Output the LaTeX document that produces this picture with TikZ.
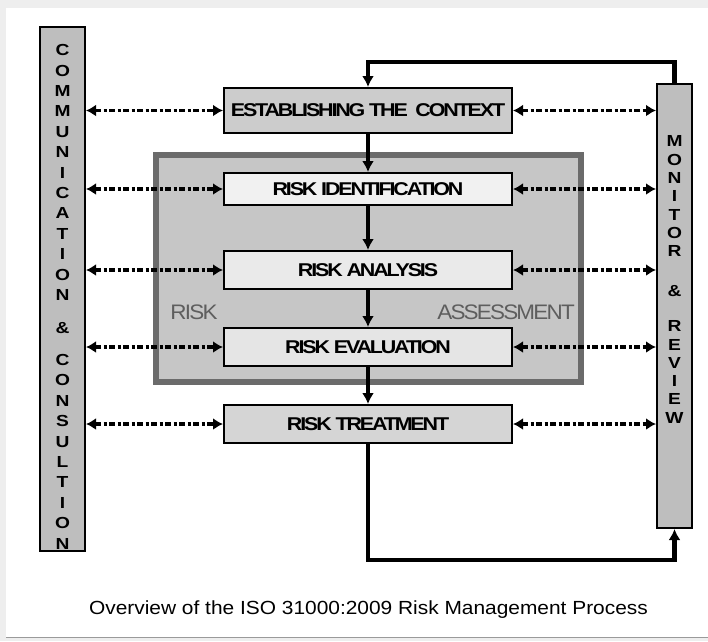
\documentclass[tikz,border=0pt]{standalone}
\usepackage{fontspec}
\usepackage{graphicx}
\setmainfont{Liberation Sans}
\newfontfamily\boxfont[LetterSpace=-10]{Liberation Sans}
\newfontfamily\areafont[LetterSpace=-8]{Liberation Sans}
\usetikzlibrary{arrows.meta}
\definecolor{pagebg}{HTML}{EEEEEE}
\definecolor{framegray}{HTML}{9A9A9A}
\definecolor{ctxfill}{HTML}{CCCCCC}
\definecolor{identfill}{HTML}{F1F1F1}
\definecolor{analfill}{HTML}{EAEAEA}
\definecolor{evalfill}{HTML}{E5E5E5}
\definecolor{treatfill}{HTML}{D5D5D5}
\definecolor{colfill}{HTML}{BEBEBE}
\definecolor{assessfill}{HTML}{C6C6C6}
\definecolor{assessborder}{HTML}{6B6B6B}
\definecolor{assesstext}{HTML}{5E5E5E}
\begin{document}
\begin{tikzpicture}[x=1pt,y=-1pt,
  procbox/.style={draw=black, line width=2pt, minimum width=288pt, inner sep=0pt,
    font=\boxfont\bfseries\fontsize{18.5}{20}\selectfont},
  colbox/.style={draw=black, line width=2pt, fill=colfill, inner sep=0pt},
  collabel/.style={inner sep=0pt, font=\bfseries\fontsize{16}{20.4}\selectfont},
  assessbox/.style={draw=assessborder, line width=6pt, fill=assessfill, inner sep=0pt},
  assesslabel/.style={inner sep=0pt, text=assesstext, font=\areafont\fontsize{21}{23}\selectfont},
  captionstyle/.style={inner sep=0pt, font=\fontsize{19}{21}\selectfont},
  dasharrow/.style={line width=3.2pt, dash pattern=on 6pt off 2.5pt on 3pt off 2.5pt,
    {Latex[length=10pt,width=12pt]}-{Latex[length=10pt,width=12pt]}},
  flowarrow/.style={line width=3.8pt, -{Latex[length=11pt,width=12pt]}},
  loopline/.style={line width=4.2pt, -{Latex[length=11pt,width=12pt]}}
]
\useasboundingbox (0,0) rectangle (708,641);
% page frame
\fill[pagebg] (0,0) rectangle (708,641);
\fill[white] (6,8) rectangle (708,637);
\draw[framegray, line width=1.5pt] (6,637.5) -- (708,637.5);

% risk assessment area
\node[assessbox, minimum width=425pt, minimum height=227pt] (ra) at (368.5,268.5) {};
\node[assesslabel] (rlab) at (194,312) {\scalebox{1.07}[1]{RISK}};
\node[assesslabel] (alab) at (506,312) {\scalebox{1.07}[1]{ASSESSMENT}};

% side columns
\node[colbox, minimum width=45pt, minimum height=524pt] (lcol) at (62.5,289) {};
\node[colbox, minimum width=35pt, minimum height=444pt] (rcol) at (674.5,306) {};
\node[collabel] (ltext) at (62.5,298.4) {\scalebox{1.2}[1]{\begin{tabular}{@{}c@{}}C\\O\\M\\M\\U\\N\\I\\C\\A\\T\\I\\O\\N\\[12.6pt]\&\\[11.6pt]C\\O\\N\\S\\U\\L\\T\\I\\O\\N\end{tabular}}};
\node[collabel, font=\bfseries\fontsize{16}{18.3}\selectfont] (rtext) at (674.5,281.4) {\scalebox{1.2}[1]{\begin{tabular}{@{}c@{}}M\\O\\N\\I\\T\\O\\R\\[21.7pt]\&\\[16.7pt]R\\E\\V\\I\\E\\W\end{tabular}}};

% process boxes
\node[procbox, fill=ctxfill, minimum height=45pt] (ctx) at (368,110.5) {\scalebox{1.16}[1]{ESTABLISHING THE\ \ CONTEXT}};
\node[procbox, fill=identfill, minimum height=32pt] (ident) at (368,189) {\scalebox{1.16}[1]{RISK IDENTIFICATION}};
\node[procbox, fill=analfill, minimum height=38pt] (anal) at (368,270) {\scalebox{1.16}[1]{RISK ANALYSIS}};
\node[procbox, fill=evalfill, minimum height=38pt] (eval) at (368,347) {\scalebox{1.16}[1]{RISK EVALUATION}};
\node[procbox, fill=treatfill, minimum height=38pt] (treat) at (368,424) {\scalebox{1.16}[1]{RISK TREATMENT}};

% caption
\node[captionstyle] (cap) at (368.5,610) {\scalebox{1.1}[1]{Overview of the ISO 31000:2009 Risk Management Process}};

% flow arrows
\draw[flowarrow] (ctx.south) -- (ident.north);
\draw[flowarrow] (ident.south) -- (anal.north);
\draw[flowarrow] (anal.south) -- (eval.north);
\draw[flowarrow] (eval.south) -- (treat.north);

% feedback loops
\coordinate (topc) at (0,62);
\coordinate (botc) at (0,560);
\draw[loopline, line join=miter] (rcol.north) -- (rcol.north |- topc) -- (ctx.north |- topc) -- (ctx.north);
\draw[loopline, line join=miter] (treat.south) -- (treat.south |- botc) -- (rcol.south |- botc) -- (rcol.south);

% communication / monitoring arrows
\foreach \b in {ctx,ident,anal,eval,treat}{
  \draw[dasharrow] (lcol.east |- \b.west) -- (\b.west);
  \draw[dasharrow] (\b.east) -- (rcol.west |- \b.east);
}
\end{tikzpicture}
\end{document}
